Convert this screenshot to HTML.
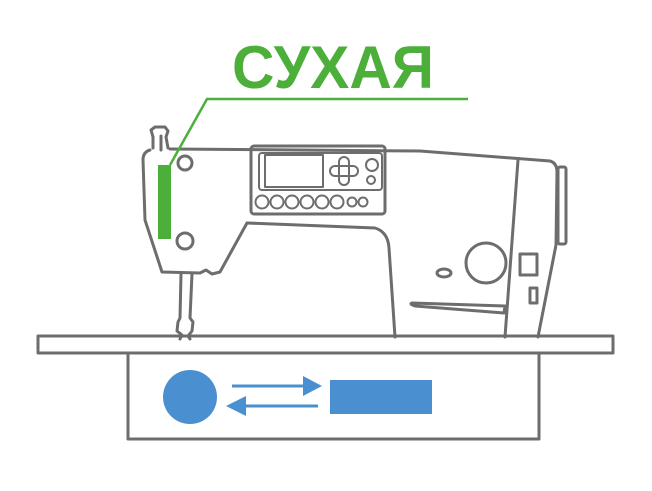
<!DOCTYPE html>
<html><head><meta charset="utf-8"><style>html,body{margin:0;padding:0;background:#fff}svg{display:block}</style></head>
<body>
<svg width="652" height="491" viewBox="0 0 652 491" xmlns="http://www.w3.org/2000/svg">
<text x="333" y="88" text-anchor="middle" font-family="Liberation Sans, sans-serif" font-weight="bold" font-size="60" fill="#4caf3a" textLength="202" lengthAdjust="spacingAndGlyphs">СУХАЯ</text>
<g fill="none" stroke="#6d6d6d" stroke-width="3" stroke-linejoin="round" stroke-linecap="round">
<!-- head & arm -->
<path d="M170,149 L420,151 L550,161 Q557,163 557,172 L556,245 L538,337"/>
<path d="M518,160 L505,337"/>
<path d="M247,223 L375,228 Q388,232 389,248 L395,337"/>
<path d="M150,150 Q143,152 143,160 L145,220 L162,272 L200,273 L206,270 L212,274 L220,272 L247,223"/>
<rect x="558" y="167" width="8" height="77" rx="2"/>
<!-- spool -->
<path d="M153,148 L153,137 L151,130 L155,127 L165,127 L168,131 L166,137 L168,148"/>
<path d="M161,136 L161,150"/>
<!-- needle -->
<path d="M181,274 L180,318 L178,322 L177,331 L182,335 L180,339"/>
<path d="M192,274 L190,318 L193,322 L192,331 L188,336 L190,339"/>
<circle cx="185" cy="163" r="7"/>
<circle cx="185" cy="241" r="8"/>
<!-- panel -->
<rect x="251" y="146" width="134" height="68" rx="3"/>
<rect x="259" y="153" width="123" height="37" rx="3" stroke-width="2"/>
<rect x="265" y="155" width="58" height="32" stroke-width="2"/>
<g stroke-width="2">
<rect x="339" y="157" width="10" height="28" rx="5"/>
<rect x="330" y="166" width="28" height="10" rx="5"/>
<circle cx="372" cy="165" r="6"/><circle cx="371" cy="180" r="4"/>
<circle cx="262" cy="202" r="6.5"/><circle cx="277" cy="202" r="6.5"/><circle cx="292" cy="202" r="6.5"/><circle cx="307" cy="202" r="6.5"/><circle cx="322" cy="202" r="6.5"/><circle cx="337" cy="202" r="6.5"/>
<circle cx="352" cy="202" r="4.5"/><circle cx="363" cy="202" r="4.5"/>
</g>
<!-- right details -->
<circle cx="486" cy="263" r="20"/>
<ellipse cx="444" cy="273" rx="7" ry="4"/>
<rect x="520" y="254" width="17" height="21"/>
<rect x="530" y="288" width="7" height="15"/>
<path d="M412,303 L505,306 L504,313 L415,306 Q409,304 412,303 Z"/>
<!-- table -->
<rect x="38" y="336" width="575" height="17"/>
<path d="M128,353 L128,439 L539,439 L539,353"/>
</g>
<!-- green -->
<path d="M468,99 L207,99 L170,165" fill="none" stroke="#4caf3a" stroke-width="2.5"/>
<rect x="158" y="165" width="13" height="74" fill="#4caf3a"/>
<!-- blue -->
<circle cx="190" cy="397" r="27" fill="#4a90d0"/>
<rect x="330" y="380" width="102" height="34" fill="#4a90d0"/>
<path d="M232,386 L306,386" stroke="#4a90d0" stroke-width="3"/>
<path d="M322,386 L303,376 L303,396 Z" fill="#4a90d0"/>
<path d="M318,406 L243,406" stroke="#4a90d0" stroke-width="3"/>
<path d="M226,406 L246,396 L246,416 Z" fill="#4a90d0"/>
</svg>
</body></html>
